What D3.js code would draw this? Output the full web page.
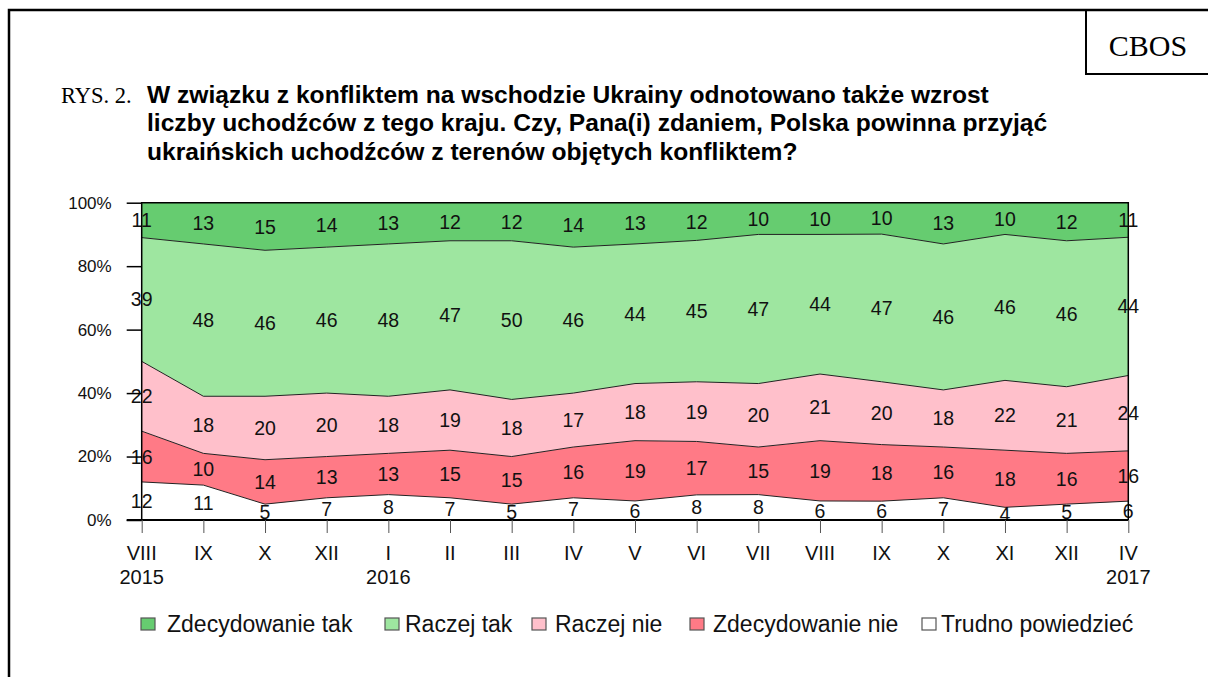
<!DOCTYPE html>
<html>
<head>
<meta charset="utf-8">
<script src="https://cdn.jsdelivr.net/npm/d3@7"></script>
<style>
  body { margin: 0; background: #fff; }
  svg { display: block; }
</style>
</head>
<body>
<svg id="chart" width="1208" height="677"></svg>
<script>
// survey waves (month + year under first wave of each year)
var months = ["VIII","IX","X","XII","I","II","III","IV","V","VI","VII","VIII","IX","X","XI","XII","IV"];
var years  = ["2015","","","","2016","","","","","","","","","","","","2017"];

// answers in %
var zdecydowanieTak = [11,13,15,14,13,12,12,14,13,12,10,10,10,13,10,12,11];
var raczejTak       = [39,48,46,46,48,47,50,46,44,45,47,44,47,46,46,46,44];
var raczejNie       = [22,18,20,20,18,19,18,17,18,19,20,21,20,18,22,21,24];
var zdecydowanieNie = [16,10,14,13,13,15,15,16,19,17,15,19,18,16,18,16,16];
var trudno          = [12,11,5,7,8,7,5,7,6,8,8,6,6,7,4,5,6];

var yTicks = [0, 20, 40, 60, 80, 100];

// series from bottom to top
var series = [
  { key: "trudno", name: "Trudno powiedzieć", values: trudno, color: "#ffffff" },
  { key: "zdecNie", name: "Zdecydowanie nie", values: zdecydowanieNie, color: "#ff7a86" },
  { key: "raczejNie", name: "Raczej nie", values: raczejNie, color: "#ffc0cb" },
  { key: "raczejTak", name: "Raczej tak", values: raczejTak, color: "#9ee6a0" },
  { key: "zdecTak", name: "Zdecydowanie tak", values: zdecydowanieTak, color: "#66cc70" }
];

var svg = d3.select("#chart");

// page frame + CBOS box
svg.append("path")
  .attr("d", "M9,677V10H1208")
  .attr("fill", "none")
  .attr("stroke", "black")
  .attr("stroke-width", 2.5);
svg.append("rect")
  .attr("x", 1086).attr("y", 10)
  .attr("width", 140).attr("height", 64)
  .attr("fill", "none")
  .attr("stroke", "black")
  .attr("stroke-width", 2);
svg.append("text")
  .attr("x", 1148).attr("y", 56)
  .attr("text-anchor", "middle")
  .style("font-family", "Liberation Serif, Times New Roman, serif")
  .attr("font-size", "30px")
  .text("CBOS");

// title
svg.append("text")
  .attr("x", 61).attr("y", 103)
  .style("font-family", "Liberation Serif, Times New Roman, serif")
  .attr("font-size", "22.5px")
  .text("RYS. 2.");
var titleLines = [
  "W związku z konfliktem na wschodzie Ukrainy odnotowano także wzrost",
  "liczby uchodźców z tego kraju. Czy, Pana(i) zdaniem, Polska powinna przyjąć",
  "ukraińskich uchodźców z terenów objętych konfliktem?"
];
svg.append("g").selectAll("text")
  .data(titleLines)
  .join("text")
  .attr("x", 147)
  .attr("y", function(d, i) { return 103 + i * 28.3; })
  .style("font-family", "Liberation Sans, Arial, sans-serif")
  .attr("font-weight", "bold")
  .attr("font-size", "24.6px")
  .text(function(d) { return d; });

// scales
var x = d3.scalePoint().domain(d3.range(months.length)).range([141.7, 1128.3]);
var y = d3.scaleLinear().domain([0, 1]).range([520, 202.7]);

var rows = months.map(function(m, i) {
  var r = {};
  series.forEach(function(s) { r[s.key] = s.values[i]; });
  return r;
});
var stack = d3.stack()
  .keys(series.map(function(s) { return s.key; }))
  .offset(d3.stackOffsetExpand);
var stacked = stack(rows);

var area = d3.area()
  .x(function(d, i) { return x(i); })
  .y0(function(d) { return y(d[0]); })
  .y1(function(d) { return y(d[1]); });
var topLine = d3.line()
  .x(function(d, i) { return x(i); })
  .y(function(d) { return y(d[1]); });

var plot = svg.append("g");
plot.selectAll("path.band")
  .data(stacked)
  .join("path")
  .attr("class", "band")
  .attr("d", area)
  .attr("fill", function(d, i) { return series[i].color; });
plot.selectAll("path.edge")
  .data(stacked.slice(0, stacked.length - 1))
  .join("path")
  .attr("class", "edge")
  .attr("d", topLine)
  .attr("fill", "none")
  .attr("stroke", "#222")
  .attr("stroke-width", 1);

// value labels in the middle of each band
stacked.forEach(function(layer, li) {
  plot.append("g").selectAll("text")
    .data(layer)
    .join("text")
    .attr("x", function(d, i) { return x(i); })
    .attr("y", function(d) { return y((d[0] + d[1]) / 2); })
    .attr("dy", "0.36em")
    .attr("text-anchor", "middle")
    .style("font-family", "Liberation Sans, Arial, sans-serif")
    .attr("font-size", "19.5px")
    .attr("fill", "#111")
    .text(function(d, i) { return series[li].values[i]; });
});

// frame of plot
svg.append("path")
  .attr("d", "M" + x(0) + "," + y(0) + "V" + y(1) + "H" + x(months.length - 1) + "V" + y(0))
  .attr("fill", "none")
  .attr("stroke", "black")
  .attr("stroke-width", 1.5);

// y axis
var yAxis = svg.append("g")
  .attr("transform", "translate(" + x(0) + ",0)")
  .call(d3.axisLeft(y)
    .tickValues(yTicks.map(function(t) { return t / 100; }))
    .tickFormat(function(d) { return Math.round(d * 100) + "%"; })
    .tickSize(15)
    .tickPadding(15));
yAxis.select(".domain").remove();
yAxis.selectAll("line").attr("stroke", "black").attr("stroke-width", 1.5);
yAxis.selectAll("text")
  .style("font-family", "Liberation Sans, Arial, sans-serif")
  .attr("font-size", "17px")
  .attr("fill", "#111");

// x axis
var xAxis = svg.append("g")
  .attr("transform", "translate(0," + y(0) + ")")
  .call(d3.axisBottom(x).tickSize(13).tickFormat(""));
xAxis.select(".domain")
  .attr("d", "M126.7,0H" + x(months.length - 1))
  .attr("stroke", "black")
  .attr("stroke-width", 2);
xAxis.selectAll(".tick line").attr("stroke", "#555").attr("stroke-width", 1);

svg.append("g").selectAll("text")
  .data(months)
  .join("text")
  .attr("x", function(d, i) { return x(i); })
  .attr("y", 560)
  .attr("text-anchor", "middle")
  .style("font-family", "Liberation Sans, Arial, sans-serif")
  .attr("font-size", "20px")
  .attr("fill", "#111")
  .text(function(d) { return d; });
svg.append("g").selectAll("text")
  .data(years)
  .join("text")
  .attr("x", function(d, i) { return x(i); })
  .attr("y", 584)
  .attr("text-anchor", "middle")
  .style("font-family", "Liberation Sans, Arial, sans-serif")
  .attr("font-size", "20px")
  .attr("fill", "#111")
  .text(function(d) { return d; });

// legend, in the order of the reference
var legendOrder = series.slice().reverse();
var legendX = [141, 385, 532, 690, 922];
var legendTextOff = [26, 20, 23, 23, 19];
var legend = svg.append("g").selectAll("g")
  .data(legendOrder)
  .join("g")
  .attr("transform", function(d, i) { return "translate(" + legendX[i] + ",618)"; });
legend.append("rect")
  .attr("width", 14).attr("height", 12)
  .attr("fill", function(d) { return d.color; })
  .attr("stroke", "#555")
  .attr("stroke-width", 1.2);
legend.append("text")
  .attr("x", function(d, i) { return legendTextOff[i]; })
  .attr("y", 14)
  .style("font-family", "Liberation Sans, Arial, sans-serif")
  .attr("font-size", "23px")
  .attr("fill", "#111")
  .text(function(d) { return d.name; });
</script>
</body>
</html>
